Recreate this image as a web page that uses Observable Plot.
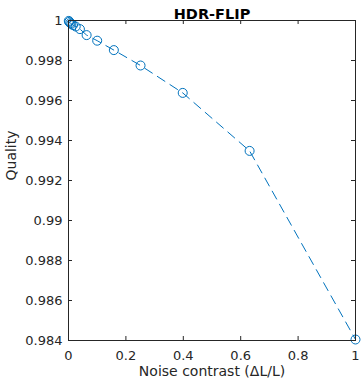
<!DOCTYPE html>
<html>
<head>
<meta charset="utf-8">
<script src="https://cdn.jsdelivr.net/npm/d3@7"></script>
<script src="https://cdn.jsdelivr.net/npm/@observablehq/plot@0.6"></script>
<style>
  html, body { margin: 0; padding: 0; background: #fff; }
</style>
</head>
<body>
<div id="chart"></div>
<script>
const noiseContrast = [0.001, 0.0025, 0.0063, 0.01, 0.0158, 0.0251, 0.0398, 0.0631, 0.1, 0.158, 0.251, 0.398, 0.631, 1];
const quality = [0.99998, 0.99993, 0.99987, 0.99983, 0.99977, 0.9997, 0.99957, 0.99927, 0.99899, 0.99852, 0.99775, 0.99638, 0.99348, 0.98405];
const xTicks = [0, 0.2, 0.4, 0.6, 0.8, 1];
const yTicks = [0.984, 0.986, 0.988, 0.99, 0.992, 0.994, 0.996, 0.998, 1];
const titleText = "HDR-FLIP";
const xLabel = "Noise contrast (ΔL/L)";
const yLabel = "Quality";

const data = noiseContrast.map((x, i) => ({x, y: quality[i]}));
const W = 362, H = 384, mL = 68, mR = 7, mT = 20, mB = 44;
const plotH = H - mT - mB, plotW = W - mL - mR;
const ink = "#262626";
const blue = "#0072BD";
const tl = 4;

const chart = Plot.plot({
  width: W,
  height: H,
  marginLeft: mL,
  marginRight: mR,
  marginTop: mT,
  marginBottom: mB,
  style: {fontFamily: "DejaVu Sans", fontSize: "13px", color: ink, background: "#fff"},
  x: {domain: [0, 1]},
  y: {domain: [0.984, 1]},
  marks: [
    Plot.line(data, {x: "x", y: "y", stroke: blue, strokeWidth: 1, strokeDasharray: "9,6"}),
    Plot.dot(data, {x: "x", y: "y", r: 4.5, stroke: blue, strokeWidth: 1, fill: "none"}),
    Plot.tickX(xTicks, {x: d => d, stroke: ink, insetTop: plotH - tl}),
    Plot.tickX(xTicks, {x: d => d, stroke: ink, insetBottom: plotH - tl}),
    Plot.tickY(yTicks, {y: d => d, stroke: ink, insetRight: plotW - tl}),
    Plot.tickY(yTicks, {y: d => d, stroke: ink, insetLeft: plotW - tl}),
    Plot.frame({stroke: ink, strokeWidth: 1}),
    Plot.axisX(xTicks, {tickSize: 0, tickPadding: 10, fontSize: 13, fill: ink, label: null, tickFormat: d => String(d)}),
    Plot.axisY(yTicks, {tickSize: 0, tickPadding: 6, fontSize: 13, fill: ink, label: null, tickFormat: d => String(d)}),
    Plot.text([xLabel], {frameAnchor: "bottom", dy: 35, fontSize: 14, fill: ink}),
    Plot.text([yLabel], {frameAnchor: "left", rotate: -90, dx: -57, fontSize: 14, fill: ink}),
    Plot.text([titleText], {frameAnchor: "top", dy: -12, fontSize: 14.5, fontWeight: "bold", fill: "#000"})
  ]
});
document.getElementById("chart").appendChild(chart);
</script>
</body>
</html>
